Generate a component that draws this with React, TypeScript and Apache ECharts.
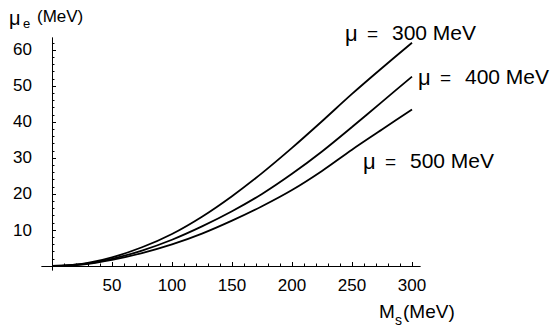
import React, { useEffect, useRef } from "react";
import * as echarts from "echarts";

const msValues = [0, 25, 50, 75, 100, 125, 150, 175, 200, 225, 250, 275, 300];
const mu300 = [0, 0.6, 2.4, 5.2, 8.9, 13.7, 19.4, 25.8, 32.8, 40.2, 47.8, 55.0, 62.0];
const mu400 = [0, 0.5, 2.0, 4.3, 7.3, 11.0, 15.2, 20.0, 25.6, 31.8, 38.6, 45.6, 52.6];
const mu500 = [0, 0.4, 1.7, 3.6, 6.0, 9.0, 12.6, 16.6, 21.1, 26.4, 32.3, 37.9, 43.5];

const xLabelValues = [50, 100, 150, 200, 250, 300];
const yLabelValues = [10, 20, 30, 40, 50, 60];
const xMinorValues = [10, 20, 30, 40, 60, 70, 80, 90, 110, 120, 130, 140, 160, 170, 180, 190, 210, 220, 230, 240, 260, 270, 280, 290];
const yMinorValues = [2, 4, 6, 8, 12, 14, 16, 18, 22, 24, 26, 28, 32, 34, 36, 38, 42, 44, 46, 48, 52, 54, 56, 58, 62];

const muLabels = ["300 MeV", "400 MeV", "500 MeV"];

const FONT = "'Liberation Sans', Arial, Helvetica, sans-serif";
const X_MIN = -8.333;
const X_MAX = 306.667;
const Y_MIN = -1.11;
const Y_MAX = 63.33;

function txt(text: string, x: number, y: number, size: number) {
  return {
    type: "text",
    x,
    y,
    silent: true,
    style: {
      text,
      fill: "#000",
      font: `${size}px ${FONT}`,
      align: "left",
      verticalAlign: "middle",
    },
  };
}

function muLabel(value: string, x: number, y: number) {
  return [
    txt("μ", x, y + 1, 22),
    txt("=", x + 22, y + 1, 19),
    txt(value, x + 47, y, 21),
  ];
}

export default function App() {
  const ref = useRef<HTMLDivElement>(null);
  useEffect(() => {
    const chart = echarts.init(ref.current!, null, { renderer: "svg" });
    const axisBase = {
      type: "value",
      splitLine: { show: false },
      axisLine: { show: true, onZero: true, lineStyle: { color: "#000", width: 1 } },
    };
    const gridBox = { left: 42, top: 38, width: 378, height: 232, outerBoundsMode: "none" };
    const mk = (arr: number[]) => ({
      type: "line",
      xAxisIndex: 0,
      yAxisIndex: 0,
      data: msValues.map((x, i) => [x, arr[i]]),
      showSymbol: false,
      smooth: 0.3,
      lineStyle: { color: "#000", width: 1.8 },
      silent: true,
    });
    chart.setOption({
      animation: false,
      backgroundColor: "#fff",
      grid: [gridBox, gridBox],
      xAxis: [
        {
          ...axisBase,
          gridIndex: 0,
          min: X_MIN,
          max: X_MAX,
          axisTick: { show: true, inside: true, length: 4, customValues: xLabelValues, lineStyle: { color: "#000" } },
          axisLabel: { customValues: xLabelValues, color: "#000", fontSize: 17, fontFamily: FONT, margin: 7 },
        },
        {
          ...axisBase,
          gridIndex: 1,
          min: X_MIN,
          max: X_MAX,
          axisTick: { show: true, inside: true, length: 2.5, customValues: xMinorValues, lineStyle: { color: "#000" } },
          axisLabel: { show: false },
        },
      ],
      yAxis: [
        {
          ...axisBase,
          gridIndex: 0,
          min: Y_MIN,
          max: Y_MAX,
          axisTick: { show: true, inside: true, length: 4, customValues: yLabelValues, lineStyle: { color: "#000" } },
          axisLabel: { customValues: yLabelValues, color: "#000", fontSize: 17, fontFamily: FONT, margin: 10 },
        },
        {
          ...axisBase,
          gridIndex: 1,
          min: Y_MIN,
          max: Y_MAX,
          axisTick: { show: true, inside: true, length: 2.5, customValues: yMinorValues, lineStyle: { color: "#000" } },
          axisLabel: { show: false },
        },
      ],
      series: [mk(mu300), mk(mu400), mk(mu500)],
      graphic: [
        txt("μ", 9, 18, 20),
        txt("e", 23, 23, 13),
        txt("(MeV)", 37, 16, 17),
        txt("M", 379, 311, 19),
        txt("s", 395, 320, 14),
        txt("(MeV)", 403, 311, 19),
        ...muLabel(muLabels[0], 345, 32),
        ...muLabel(muLabels[1], 418, 76),
        ...muLabel(muLabels[2], 363, 160),
      ],
    });
    return () => chart.dispose();
  }, []);
  return (
    <div
      ref={ref}
      style={{ position: "fixed", left: 0, top: 0, width: 555, height: 332, background: "#fff" }}
    />
  );
}
